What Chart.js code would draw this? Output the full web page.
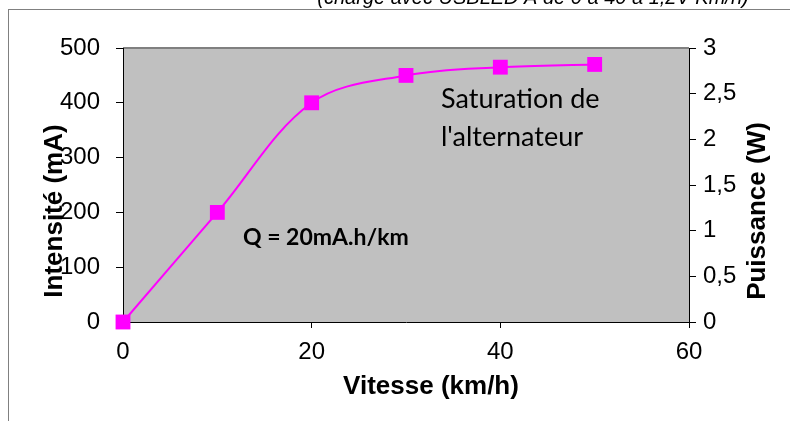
<!DOCTYPE html>
<html>
<head>
<meta charset="utf-8">
<script src="https://cdn.jsdelivr.net/npm/chart.js@4/dist/chart.umd.min.js"></script>
<style>
html,body{margin:0;padding:0;background:#fff;}
#wrap{position:relative;width:790px;height:421px;}
</style>
</head>
<body>
<div id="wrap"><canvas id="c" width="790" height="421"></canvas></div>
<script>
// ---- data ----
const speeds = [0, 10, 20, 30, 40, 50];          // km/h
const intensities = [0, 200, 400, 450, 465, 470]; // mA
const leftTicks = [0, 100, 200, 300, 400, 500];
const rightTickLabels = ['0', '0,5', '1', '1,5', '2', '2,5', '3'];
const xTicks = [0, 20, 40, 60];
const caption = "(charge avec USBLED A de 0 à 40 à 1,2V Km/h)";
const xTitle = "Vitesse (km/h)";
const yTitle = "Intensité (mA)";
const y2Title = "Puissance (W)";
const note1 = ["Saturation de", "l'alternateur"];
const note2 = "Q = 20mA.h/km";

const MAG = '#FF00FF';
const ARIAL = "'Liberation Sans', Arial, sans-serif";
const tickFont = {family: ARIAL, size: 24};

const decor = {
  id: 'decor',
  beforeDraw(chart) {
    const {ctx, chartArea: a} = chart;
    ctx.save();
    ctx.strokeStyle = '#808080';
    ctx.lineWidth = 1;
    ctx.strokeRect(8.5, 9.5, 900, 600);
    ctx.fillStyle = '#C0C0C0';
    ctx.fillRect(a.left, a.top, a.right - a.left, a.bottom - a.top);
    ctx.strokeStyle = '#808080';
    ctx.lineWidth = 2;
    ctx.beginPath();
    ctx.moveTo(a.left, a.top);
    ctx.lineTo(a.right, a.top);
    ctx.stroke();
    ctx.restore();
  },
  afterDraw(chart) {
    const {ctx} = chart;
    ctx.save();
    ctx.fillStyle = '#000';
    ctx.font = "italic 20px " + ARIAL;
    ctx.textAlign = 'center';
    ctx.textBaseline = 'middle';
    ctx.fillText(caption, 533, -2);
    ctx.font = "bold 26px " + ARIAL;
    ctx.fillText(xTitle, 431, 387);
    ctx.save();
    ctx.translate(55, 211);
    ctx.rotate(-Math.PI / 2);
    ctx.fillText(yTitle, 0, 0);
    ctx.restore();
    ctx.save();
    ctx.translate(758, 211);
    ctx.rotate(-Math.PI / 2);
    ctx.fillText(y2Title, 0, 0);
    ctx.restore();
    ctx.textAlign = 'left';
    ctx.font = "27px Lato, 'Open Sans', sans-serif";
    ctx.fillText(note1[0], 441, 99);
    ctx.fillText(note1[1], 441, 137);
    ctx.font = "bold 23px Lato, 'Open Sans', sans-serif";
    ctx.fillText(note2, 243, 238);
    ctx.restore();
  }
};

new Chart(document.getElementById('c'), {
  type: 'line',
  data: {
    datasets: [{
      data: speeds.map((s, i) => ({x: s, y: intensities[i]})),
      borderColor: MAG,
      backgroundColor: MAG,
      borderWidth: 2,
      tension: 0.35,
      pointStyle: 'rect',
      pointRadius: 10.5,
      pointBorderWidth: 0,
      pointBackgroundColor: MAG,
      clip: false,
      yAxisID: 'y'
    }]
  },
  options: {
    responsive: false,
    animation: false,
    devicePixelRatio: 1,
    plugins: {legend: {display: false}, tooltip: {enabled: false}},
    layout: {padding: {top: 48, left: 0, right: 0, bottom: 0}},
    scales: {
      x: {
        type: 'linear', min: 0, max: 60,
        afterFit(s) { s.height = 99; },
        afterBuildTicks(s) { s.ticks = xTicks.map(v => ({value: v})); },
        grid: {drawOnChartArea: false, drawTicks: true, tickLength: 6, color: '#000'},
        border: {display: true, color: '#000', width: 1},
        ticks: {font: tickFont, color: '#000', padding: 10, maxRotation: 0, autoSkip: false}
      },
      y: {
        type: 'linear', position: 'left', min: 0, max: 500,
        afterFit(s) { s.width = 123; },
        afterBuildTicks(s) { s.ticks = leftTicks.map(v => ({value: v})); },
        grid: {drawOnChartArea: false, drawTicks: true, tickLength: 7, color: '#000'},
        border: {display: true, color: '#000', width: 1},
        ticks: {font: tickFont, color: '#000', padding: 16}
      },
      y2: {
        type: 'linear', position: 'right', min: 0, max: 3,
        afterFit(s) { s.width = 101; },
        afterBuildTicks(s) { s.ticks = rightTickLabels.map((t, i) => ({value: i * 0.5})); },
        grid: {drawOnChartArea: false, drawTicks: true, tickLength: 7, color: '#000'},
        border: {display: true, color: '#000', width: 1},
        ticks: {font: tickFont, color: '#000', padding: 7,
          callback: (v, i) => rightTickLabels[i]}
      }
    }
  },
  plugins: [decor]
});
</script>
</body>
</html>
